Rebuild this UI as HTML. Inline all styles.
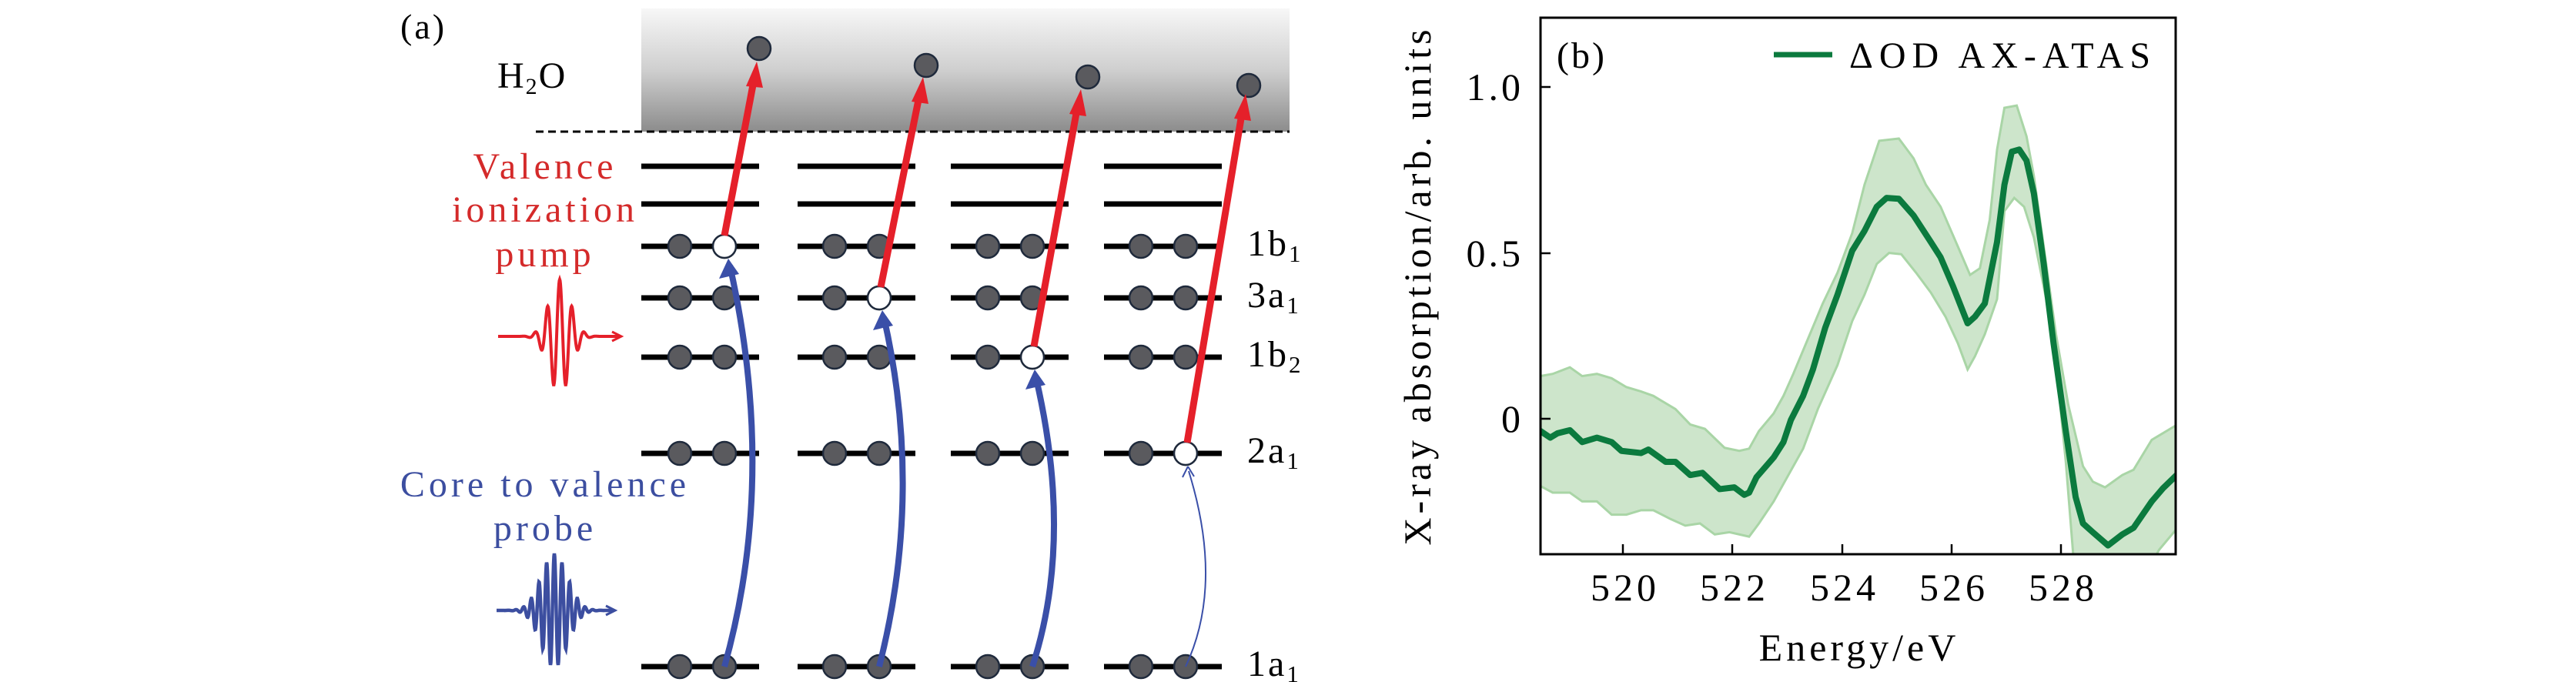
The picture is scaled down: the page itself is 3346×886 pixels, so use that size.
<!DOCTYPE html>
<html><head><meta charset="utf-8"><style>
html,body{margin:0;padding:0;background:#fff;}
svg{display:block;}
text{font-family:"Liberation Serif",serif;}
</style></head><body>
<svg xmlns="http://www.w3.org/2000/svg" width="3346" height="886" viewBox="0 0 3346 886">
<defs>
<linearGradient id="gb" x1="0" y1="0" x2="0" y2="1">
<stop offset="0" stop-color="#f7f7f7"/><stop offset="0.5" stop-color="#cfcfcf"/><stop offset="1" stop-color="#8c8c8c"/>
</linearGradient>
<clipPath id="cp"><rect x="2001" y="23" width="825" height="697"/></clipPath>
</defs>

<!-- Panel (a) -->
<text x="520" y="50" font-size="46" letter-spacing="3">(a)</text>
<rect x="833" y="11" width="842" height="160" fill="url(#gb)"/>
<line x1="696" y1="171" x2="1675" y2="171" stroke="#000" stroke-width="3" stroke-dasharray="10,6"/>
<text x="646" y="114" font-size="48" letter-spacing="2">H<tspan font-size="30" dy="8">2</tspan><tspan dy="-8">O</tspan></text>

<g fill="#d42a2a" font-size="48" text-anchor="middle" letter-spacing="5">
<text x="708" y="232">Valence</text>
<text x="708" y="288">ionization</text>
<text x="708" y="346">pump</text>
</g>
<g fill="#3c4ea0" font-size="48" text-anchor="middle" letter-spacing="5">
<text x="708" y="645">Core to valence</text>
<text x="708" y="702">probe</text>
</g>
<path id="rw" fill="none" stroke="#e5202a" stroke-width="4"/>
<path d="M795,431 L807,437 L795,443" fill="none" stroke="#e5202a" stroke-width="3"/>
<path id="bw" fill="none" stroke="#3c4ea0" stroke-width="4.5"/>
<path d="M787,787 L799,793 L787,799" fill="none" stroke="#3c4ea0" stroke-width="3"/>

<!-- levels -->
<g stroke="#000" stroke-width="7">
<g id="lv">
<line x1="833" y1="216" x2="986" y2="216"/><line x1="833" y1="265" x2="986" y2="265"/>
<line x1="833" y1="320" x2="986" y2="320"/><line x1="833" y1="387" x2="986" y2="387"/>
<line x1="833" y1="464" x2="986" y2="464"/><line x1="833" y1="589" x2="986" y2="589"/>
<line x1="833" y1="866" x2="986" y2="866"/>
</g>
<use href="#lv" x="203"/><use href="#lv" x="402"/><use href="#lv" x="601"/>
</g>
<g fill="#5a5a5e" stroke="#1f2a3c" stroke-width="2.5">
<g id="el">
<circle cx="883" cy="320" r="15"/><circle cx="941" cy="320" r="15"/>
<circle cx="883" cy="387" r="15"/><circle cx="941" cy="387" r="15"/>
<circle cx="883" cy="464" r="15"/><circle cx="941" cy="464" r="15"/>
<circle cx="883" cy="589" r="15"/><circle cx="941" cy="589" r="15"/>
<circle cx="883" cy="866" r="15"/><circle cx="941" cy="866" r="15"/>
</g>
<use href="#el" x="201"/><use href="#el" x="400"/><use href="#el" x="599"/>
<circle cx="986" cy="63" r="15"/><circle cx="1203" cy="85" r="15"/>
<circle cx="1413" cy="100" r="15"/><circle cx="1622" cy="111" r="15"/>
</g>
<!-- holes -->
<g fill="#fff" stroke="#1f2a3c" stroke-width="2.5">
<circle cx="941" cy="320" r="15"/><circle cx="1142" cy="387" r="15"/>
<circle cx="1341" cy="464" r="15"/><circle cx="1540" cy="589" r="15"/>
</g>
<!-- blue arrows -->
<g fill="none" stroke="#3a4fa8" stroke-width="8">
<path d="M941,866 Q1010,620 948,345"/>
<path d="M1142,866 Q1200,640 1148,412"/>
<path d="M1341,866 Q1395,700 1345,488"/>
<path d="M1540,866 Q1590,760 1544,612" stroke-width="2"/>
</g>
<g fill="#3a4fa8">
<path d="M946,336 L934,362 L960,356 Z"/>
<path d="M1146,403 L1134,429 L1160,423 Z"/>
<path d="M1344,480 L1332,506 L1358,500 Z"/>
<path d="M1543,606 L1536,620 M1543,606 L1551,619" stroke="#3a4fa8" stroke-width="2"/>
</g>
<!-- red arrows -->
<g stroke="#e5202a" stroke-width="9">
<line x1="941" y1="306" x2="980" y2="100"/>
<line x1="1144" y1="373" x2="1195" y2="120"/>
<line x1="1343" y1="450" x2="1400" y2="136"/>
<line x1="1542" y1="575" x2="1614" y2="142"/>
</g>
<g fill="#e5202a">
<path d="M983,80 L969,112 L991,114 Z"/>
<path d="M1199,100 L1184,132 L1206,135 Z"/>
<path d="M1404,116 L1389,148 L1411,151 Z"/>
<path d="M1618,122 L1603,154 L1625,157 Z"/>
</g>
<g font-size="48" letter-spacing="3">
<text x="1620" y="332">1b<tspan font-size="31" dy="8">1</tspan></text>
<text x="1620" y="399">3a<tspan font-size="31" dy="8">1</tspan></text>
<text x="1620" y="476">1b<tspan font-size="31" dy="8">2</tspan></text>
<text x="1620" y="601">2a<tspan font-size="31" dy="8">1</tspan></text>
<text x="1620" y="878">1a<tspan font-size="31" dy="8">1</tspan></text>
</g>

<!-- Panel (b) -->
<g clip-path="url(#cp)">
<g transform="translate(1800,0) scale(0.63776,0.57143)">
<path vector-effect="non-scaling-stroke" fill="#cde5cb" stroke="#a9d5a6" stroke-width="3" d="M300,855 L315,855 L340,850 L375,835 L400,855 L430,850 L460,860 L490,880 L520,890 L545,900 L590,930 L620,965 L650,975 L690,1018 L720,1025 L740,1020 L760,980 L790,940 L810,900 L830,850 L860,770 L890,690 L920,620 L950,530 L975,420 L1005,320 L1045,315 L1075,360 L1100,420 L1130,470 L1165,560 L1190,625 L1210,610 L1230,500 L1245,340 L1260,245 L1285,240 L1305,310 L1320,400 L1340,560 L1365,760 L1390,920 L1420,1060 L1440,1095 L1465,1108 L1500,1080 L1523,1068 L1560,1000 L1620,960 L1620,1190 L1575,1250 L1560,1280 L1480,1330 L1420,1330 L1400,1260 L1385,1050 L1370,880 L1345,680 L1320,540 L1300,470 L1280,450 L1260,480 L1245,680 L1220,760 L1200,810 L1185,840 L1165,780 L1140,720 L1110,665 L1080,620 L1050,578 L1025,575 L1000,600 L975,670 L950,730 L920,830 L880,930 L850,1020 L820,1080 L790,1140 L760,1190 L740,1220 L700,1210 L670,1215 L640,1190 L610,1195 L580,1180 L545,1160 L520,1160 L490,1170 L460,1170 L430,1140 L400,1140 L375,1120 L340,1120 L315,1105 L300,1105 Z"/>
<path vector-effect="non-scaling-stroke" fill="none" stroke="#0b7a3e" stroke-width="8" stroke-linejoin="round" d="M300,975 L315,980 L335,995 L350,985 L375,978 L400,1005 L430,995 L460,1005 L480,1025 L520,1030 L535,1022 L570,1050 L590,1050 L620,1080 L645,1075 L680,1112 L710,1108 L730,1125 L740,1120 L755,1085 L790,1040 L810,1005 L825,955 L850,900 L870,840 L895,745 L920,670 L950,570 L975,525 L1000,470 L1020,450 L1045,452 L1075,490 L1110,550 L1130,585 L1155,650 L1185,735 L1200,720 L1220,690 L1245,550 L1260,420 L1275,345 L1290,340 L1305,365 L1320,440 L1340,600 L1360,780 L1385,980 L1405,1130 L1420,1190 L1440,1210 L1471,1240 L1500,1215 L1523,1200 L1560,1140 L1583,1110 L1620,1070"/>
</g>
</g>
<rect x="2001" y="23" width="825" height="697" fill="none" stroke="#000" stroke-width="3"/>
<g stroke="#000" stroke-width="2.5">
<line x1="2108" y1="720" x2="2108" y2="707"/><line x1="2250" y1="720" x2="2250" y2="707"/>
<line x1="2393" y1="720" x2="2393" y2="707"/><line x1="2535" y1="720" x2="2535" y2="707"/>
<line x1="2677" y1="720" x2="2677" y2="707"/>
<line x1="2001" y1="113" x2="2014" y2="113"/><line x1="2001" y1="329" x2="2014" y2="329"/>
<line x1="2001" y1="544" x2="2014" y2="544"/>
</g>
<g font-size="50" text-anchor="end" letter-spacing="4">
<text x="1979" y="130">1.0</text><text x="1979" y="346">0.5</text><text x="1979" y="561">0</text>
</g>
<g font-size="50" text-anchor="middle" letter-spacing="5">
<text x="2111" y="780">520</text><text x="2253" y="780">522</text><text x="2396" y="780">524</text>
<text x="2538" y="780">526</text><text x="2680" y="780">528</text>
<text x="2415" y="858">Energy/eV</text>
<text transform="translate(1858,371) rotate(-90)">X-ray absorption/arb. units</text>
</g>
<text x="2022" y="88" font-size="48" letter-spacing="3">(b)</text>
<line x1="2304" y1="71" x2="2380" y2="71" stroke="#0b7a3e" stroke-width="7"/>
<text x="2402" y="88" font-size="48" letter-spacing="8">ΔOD AX-ATAS</text>
</svg>
<script>
function wave(cx,y,x0,x1,amp,sig,per){
 var d='';for(var x=x0;x<=x1;x+=0.5){var t=x-cx;var v=y-amp*Math.exp(-t*t/(2*sig*sig))*Math.cos(2*Math.PI*t/per);d+=(d?'L':'M')+x.toFixed(1)+','+v.toFixed(1);}return d;}
document.getElementById('rw').setAttribute('d',wave(727,437,647,805,74,14,16));
document.getElementById('bw').setAttribute('d',wave(720,793,645,797,74,17,10));
</script>
</body></html>
